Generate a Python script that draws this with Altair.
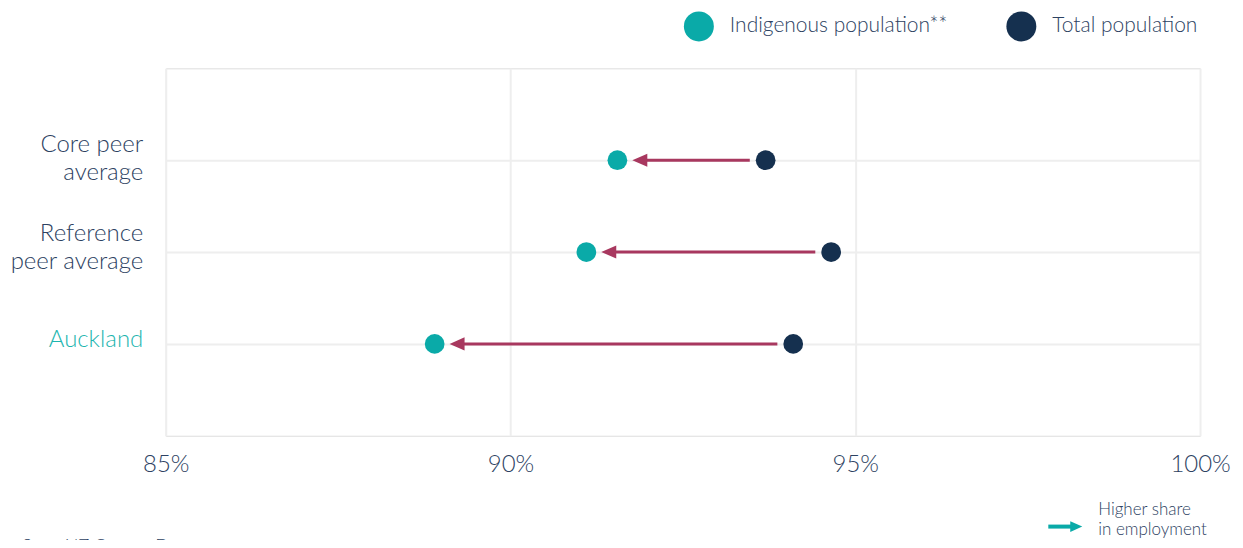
import altair as alt
import pandas as pd

categories = ["Core peer\naverage", "Reference\npeer average", "Auckland"]
indigenous = [91.55, 91.1, 88.9]
total = [93.7, 94.65, 94.1]
series_names = ["Indigenous population**", "Total population"]
x_ticks = [85, 90, 95, 100]

TEAL = "#0aaaa8"
NAVY = "#15304f"
ARROW = "#a8385f"
TEXT = "#2d4262"
GRID = "#eeeeee"
FONT = "Lato"

rows = []
for c, i, t in zip(categories, indigenous, total):
    rows.append({"cat": c, "series": series_names[0], "value": i})
    rows.append({"cat": c, "series": series_names[1], "value": t})
pts = pd.DataFrame(rows)

arrows = pd.DataFrame({
    "cat": categories,
    "start": [t - 0.23 for t in total],
    "end": [i + 0.42 for i in indigenous],
    "head": [i + 0.325 for i in indigenous],
})

xscale = alt.Scale(domain=[85, 100], nice=False, zero=False)
yscale = alt.Scale(domain=categories, type="point", padding=1)

xaxis = alt.Axis(values=x_ticks, labelExpr="datum.value + '%'", title=None,
                 labelFontSize=24, labelColor=TEXT, labelFont=FONT, labelFontWeight=300,
                 labelPadding=17, ticks=False, domain=False, grid=True,
                 gridColor=GRID, gridWidth=2, labelFlush=False)
yaxis = alt.Axis(title=None, labelExpr="split(datum.label, '\\n')",
                 labelFontSize=24, labelLineHeight=28, labelFont=FONT, labelFontWeight=300,
                 labelColor=alt.ExprRef("datum.value == 'Auckland' ? '#1db5af' : '" + TEXT + "'"),
                 labelOffset=alt.ExprRef("datum.value == 'Auckland' ? -4 : datum.value == 'Core peer\\naverage' ? -16 : -19"),
                 labelPadding=23, ticks=False, domain=False, grid=True,
                 gridColor=GRID, gridWidth=2, labelAlign="right", labelLimit=300)

rule = alt.Chart(arrows).mark_rule(color=ARROW, strokeWidth=3).encode(
    x=alt.X("start:Q", scale=xscale, axis=xaxis),
    x2="end:Q",
    y=alt.Y("cat:N", scale=yscale, axis=yaxis, sort=categories),
)

head = alt.Chart(arrows).mark_point(
    shape="M-1,0L1,-0.87L1,0.87Z", filled=True, color=ARROW, opacity=1, size=225
).encode(
    x=alt.X("head:Q", scale=xscale),
    y=alt.Y("cat:N", scale=yscale, sort=categories),
)

dots = alt.Chart(pts).mark_circle(size=390, opacity=1).encode(
    x=alt.X("value:Q", scale=xscale),
    y=alt.Y("cat:N", scale=yscale, sort=categories),
    color=alt.Color("series:N", scale=alt.Scale(domain=series_names, range=[TEAL, NAVY]),
                    legend=alt.Legend(title=None, orient="none", legendX=519, legendY=-57,
                                      direction="horizontal", symbolSize=900, symbolType="circle",
                                      labelFontSize=21, labelFont=FONT, labelFontWeight=300,
                                      labelColor=TEXT, labelOffset=16, columnPadding=58,
                                      labelLimit=400, symbolStrokeWidth=0)),
)

note = pd.DataFrame({"t": [["Higher share", "in employment"]]})
note_text = alt.Chart(note).mark_text(
    align="left", baseline="top", fontSize=17, font=FONT, fontWeight=300,
    color=TEXT, lineHeight=20
).encode(x=alt.value(934), y=alt.value(434), text="t:N")

note_line = alt.Chart(note).mark_rule(color=TEAL, strokeWidth=4).encode(
    x=alt.value(884), x2=alt.value(907), y=alt.value(459)
)
note_head = alt.Chart(note).mark_point(
    shape="M1,0L-1,-0.9L-1,0.9Z", filled=True, color=TEAL, opacity=1, size=144
).encode(x=alt.value(912), y=alt.value(459))

src = pd.DataFrame({"t": ["Source: Stats NZ Census Data"]})
src_text = alt.Chart(src).mark_text(
    align="left", baseline="top", fontSize=18, font=FONT, fontWeight=300, color=TEXT
).encode(x=alt.value(-206), y=alt.value(470), text="t:N")

chart = alt.layer(rule, head, dots, note_line, note_head, note_text, src_text).properties(
    width=1036, height=368,
    autosize=alt.AutoSizeParams(type="none"),
    padding={"left": 158, "top": 60, "right": 35, "bottom": 104},
).configure_view(stroke=GRID, strokeWidth=2).configure(background="white")

chart.save("out.html", embed_options={"renderer": "svg", "actions": False})
